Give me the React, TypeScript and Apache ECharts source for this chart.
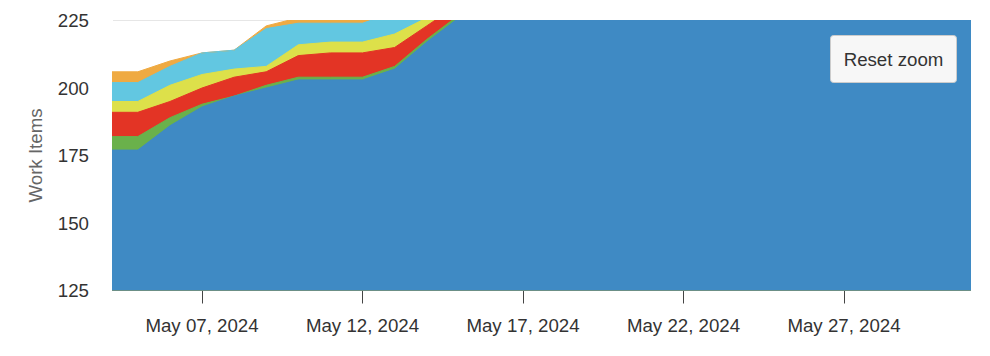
import React, { useEffect, useRef } from "react";
import * as echarts from "echarts";

// Day of May 2024 for each data point
const days = [4, 5, 6, 7, 8, 9, 10, 11, 12, 13, 14, 15, 16, 17, 18, 19, 20, 21, 22, 23, 24, 25, 26, 27, 28, 29, 30, 31];

// Stacked series (bottom to top), per-day counts
const doneValues = [177, 177, 186, 193, 197, 200, 203, 203, 203, 207, 217, 226, 229, 231, 231, 232, 234, 236, 238, 239, 240, 240, 241, 243, 245, 246, 248, 249];
const greenValues = [5, 5, 3, 1, 0, 1, 1, 1, 1, 1, 1, 1, 1, 1, 1, 1, 1, 1, 1, 1, 1, 1, 1, 1, 1, 1, 1, 1];
const redValues = [9, 9, 6, 6, 7, 5, 8, 9, 9, 7, 5, 4, 4, 4, 5, 5, 4, 4, 4, 4, 5, 5, 4, 4, 4, 4, 4, 4];
const yellowValues = [4, 4, 6, 5, 3, 2, 4, 4, 4, 5, 3, 3, 3, 3, 3, 3, 3, 3, 3, 3, 3, 3, 3, 3, 3, 3, 3, 3];
const cyanValues = [7, 7, 7, 8, 7, 14, 8, 7, 7, 8, 6, 6, 6, 6, 6, 6, 6, 6, 6, 6, 6, 6, 6, 6, 6, 6, 6, 6];
const orangeValues = [4, 4, 2, 0, 0, 1, 2, 2, 2, 2, 2, 2, 2, 2, 2, 2, 2, 2, 2, 2, 2, 2, 2, 2, 2, 2, 2, 2];

const seriesNames = ["Done", "Review", "In Progress", "Selected", "Backlog", "New"];
const seriesColors = ["#3f8ac4", "#6ab14b", "#e33425", "#dde04a", "#62c7e1", "#efaa42"];
const seriesValues = [doneValues, greenValues, redValues, yellowValues, cyanValues, orangeValues];

const xTicks = [7, 12, 17, 22, 27];
const yTicks = [125, 150, 175, 200, 225];
const xMinDay = 4.227;
const xMaxDay = 30.925;

const FONT = "'Liberation Sans', Arial, Helvetica, sans-serif";
const FS = 18.7;

const pad = (n: number) => (n < 10 ? "0" + n : "" + n);

export default function App() {
  const ref = useRef<HTMLDivElement>(null);

  useEffect(() => {
    document.body.style.margin = "0";
    if (!ref.current) return;
    const chart = echarts.init(ref.current, undefined, { renderer: "svg" });

    // cumulative totals per layer (stack computed here; drawn top layer first)
    const cumulative: number[][] = [];
    seriesValues.forEach((vals, i) => {
      cumulative.push(vals.map((v, k) => v + (i > 0 ? cumulative[i - 1][k] : 0)));
    });
    const order = seriesNames.map((_, i) => seriesNames.length - 1 - i);

    chart.setOption({
      animation: false,
      backgroundColor: "#ffffff",
      textStyle: { fontFamily: FONT },
      grid: { left: 113, right: 20, top: 20.5, bottom: 65.5 },
      xAxis: {
        type: "value",
        min: xMinDay,
        max: xMaxDay,
        splitLine: { show: false },
        axisLine: { show: true, lineStyle: { color: "#444444", width: 1 } },
        axisTick: {
          show: true,
          customValues: xTicks,
          length: 13,
          lineStyle: { color: "#444444", width: 1 },
        },
        axisLabel: {
          customValues: xTicks,
          margin: 25,
          color: "#333333",
          fontSize: FS,
          fontFamily: FONT,
          formatter: (v: number) => `May ${pad(Math.round(v))}, 2024`,
        },
      },
      yAxis: {
        type: "value",
        min: yTicks[0],
        max: yTicks[yTicks.length - 1],
        interval: 25,
        name: "Work Items",
        nameLocation: "middle",
        nameGap: 68,
        nameRotate: 90,
        nameTextStyle: { color: "#666666", fontSize: FS, fontFamily: FONT },
        axisLine: { show: false },
        axisTick: { show: false },
        splitLine: { show: true, lineStyle: { color: "#e6e6e6", width: 1 } },
        axisLabel: { margin: 24, color: "#333333", fontSize: FS, fontFamily: FONT },
      },
      series: order.map((i) => ({
        name: seriesNames[i],
        type: "line",
        showSymbol: false,
        symbol: "none",
        clip: true,
        lineStyle: { width: 1, color: seriesColors[i] },
        itemStyle: { color: seriesColors[i] },
        areaStyle: { color: seriesColors[i], opacity: 1, origin: "start" },
        data: days.map((d, k) => [d, cumulative[i][k]]),
      })),
      graphic: [
        {
          type: "group",
          left: 830,
          top: 35,
          z: 100,
          children: [
            {
              type: "rect",
              z: 100,
              shape: { x: 0, y: 0, width: 126, height: 47, r: 3 },
              style: { fill: "#f7f7f7", stroke: "#cccccc", lineWidth: 1 },
            },
            {
              type: "text",
              z: 101,
              x: 63,
              y: 24,
              style: {
                text: "Reset zoom",
                fill: "#333333",
                fontSize: FS,
                fontFamily: FONT,
                align: "center",
                verticalAlign: "middle",
              },
            },
          ],
        },
      ],
    });
    return () => chart.dispose();
  }, []);

  return <div ref={ref} style={{ width: 990, height: 356 }} />;
}
